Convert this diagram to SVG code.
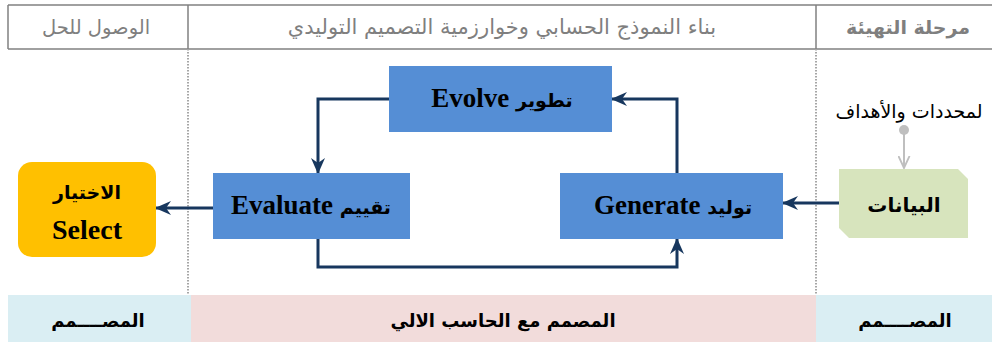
<svg xmlns="http://www.w3.org/2000/svg" width="992" height="342" viewBox="0 0 992 342">
<style>
.hdr{font-family:"DejaVu Sans","Liberation Sans",sans-serif;font-size:19.5px;fill:#7f7f7f;text-anchor:middle}
.ftr{font-family:"DejaVu Sans","Liberation Sans",sans-serif;font-size:18px;font-weight:bold;fill:#000;text-anchor:middle}
.box{fill:#558ed5}
.lbl{font-family:"Liberation Serif","DejaVu Serif","DejaVu Sans",serif;font-size:27px;font-weight:bold;fill:#000;text-anchor:middle}
.ar{font-family:"DejaVu Sans",sans-serif;font-size:19px}
.con{fill:none;stroke:#17375e;stroke-width:3}
.dot{stroke:#a6a6a6;stroke-width:2;stroke-dasharray:1.5 1.5}
</style>
<defs>
<marker id="ah" viewBox="0 0 16 16" refX="15" refY="8" markerWidth="16" markerHeight="16" markerUnits="userSpaceOnUse" orient="auto">
<path d="M0,1 L16,8 L0,15 L5,8 z" fill="#17375e"/>
</marker>
<marker id="ahg" viewBox="0 0 14 14" refX="13" refY="7" markerWidth="13" markerHeight="13" markerUnits="userSpaceOnUse" orient="auto">
<path d="M0,1 L13,7 L0,13" fill="none" stroke="#bfbfbf" stroke-width="2"/>
</marker>
</defs>

<g id="header">
<line x1="8" y1="5" x2="992" y2="5" stroke="#808080" stroke-width="1.5"/>
<line x1="8" y1="49" x2="992" y2="49" stroke="#808080" stroke-width="1.5"/>
<line x1="8" y1="5" x2="8" y2="49" stroke="#808080" stroke-width="1.5"/>
<line x1="188" y1="5" x2="188" y2="49" stroke="#808080" stroke-width="1.5"/>
<line x1="816" y1="5" x2="816" y2="49" stroke="#808080" stroke-width="1.5"/>
<text class="hdr" x="96" y="34">الوصول للحل</text>
<text class="hdr" x="502" y="34" style="font-size:21px">بناء النموذج الحسابي وخوارزمية التصميم التوليدي</text>
<text class="hdr" x="908" y="34" style="font-size:19px;font-weight:bold">مرحلة التهيئة</text>
</g>

<g id="dividers">
<line class="dot" x1="188" y1="49" x2="188" y2="295"/>
<line class="dot" x1="816" y1="49" x2="816" y2="295"/>
</g>

<g id="footer">
<rect x="8" y="295" width="183" height="47" fill="#daeef3"/>
<rect x="191" y="295" width="625" height="47" fill="#f2dcdb"/>
<rect x="816" y="295" width="176" height="47" fill="#daeef3"/>
<text class="ftr" x="98" y="327">المصــــمم</text>
<text class="ftr" x="503" y="327">المصمم مع الحاسب الالي</text>
<text class="ftr" x="905" y="327">المصــــمم</text>
</g>

<g id="connectors">
<path class="con" d="M839,203 L783,203" marker-end="url(#ah)"/>
<path class="con" d="M677,173 L677,99 L612,99" marker-end="url(#ah)"/>
<path class="con" d="M389,99 L318,99 L318,173" marker-end="url(#ah)"/>
<path class="con" d="M318,239 L318,267 L677,267 L677,239" marker-end="url(#ah)"/>
<path class="con" d="M213,208 L156,208" marker-end="url(#ah)"/>
<line x1="904" y1="130" x2="904" y2="168" stroke="#bfbfbf" stroke-width="2" marker-end="url(#ahg)"/>
<circle cx="904" cy="130" r="5" fill="#bfbfbf"/>
</g>

<g id="params">
<text x="909" y="118" font-family="DejaVu Sans, sans-serif" font-size="19" fill="#000" text-anchor="middle">لمحددات والأهداف</text>
</g>

<g id="evolve">
<rect class="box" x="389" y="66" width="223" height="66"/>
<text class="lbl" x="502" y="107" direction="rtl"><tspan class="ar">تطوير</tspan> Evolve</text>
</g>

<g id="evaluate">
<rect class="box" x="213" y="173" width="197" height="66"/>
<text class="lbl" x="311" y="214" direction="rtl"><tspan class="ar">تقييم</tspan> Evaluate</text>
</g>

<g id="generate">
<rect class="box" x="560" y="173" width="223" height="66"/>
<text class="lbl" x="673" y="214" direction="rtl"><tspan class="ar">توليد</tspan> Generate</text>
</g>

<g id="select">
<rect x="18" y="162" width="138" height="95" rx="14" fill="#ffc000"/>
<text class="lbl ar" x="87" y="199">الاختيار</text>
<text class="lbl" x="87" y="239" style="font-size:28px">Select</text>
</g>

<g id="data">
<polygon points="839,169 958,169 968,179 968,238 849,238 839,228" fill="#d7e4bd"/>
<text class="lbl ar" x="904" y="212" style="font-size:20px">البيانات</text>
</g>
</svg>
